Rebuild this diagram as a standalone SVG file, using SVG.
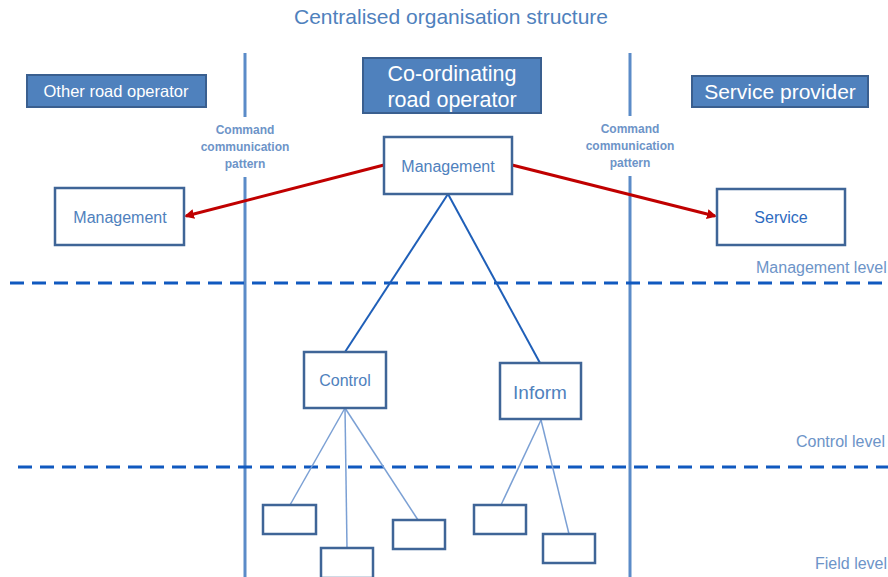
<svg xmlns="http://www.w3.org/2000/svg" width="888" height="577" viewBox="0 0 888 577">
<defs>
<marker id="ar" markerWidth="10" markerHeight="10" refX="8" refY="5" orient="auto" markerUnits="userSpaceOnUse"><path d="M0,0 L10,5 L0,10 z" fill="#c00000"/></marker>
<style>
text{font-family:"Liberation Sans",Arial,sans-serif;}
.lbl{fill:#4f81bd;text-anchor:middle;}
.hdr{fill:#4f81bd;stroke:#3a5f8f;stroke-width:2;}
.htx{fill:#ffffff;text-anchor:middle;}
.box{fill:#ffffff;stroke:#3f6597;stroke-width:2.5;}
.vl{stroke:#5b8bc8;stroke-width:3;}
.dash{stroke:#1059bf;stroke-width:3;stroke-dasharray:14 8;}
.cmd{fill:#6d94c8;font-weight:bold;font-size:12px;text-anchor:middle;}
.lvl{fill:#6d94c8;font-size:16px;}
.red{stroke:#c00000;stroke-width:3;fill:none;marker-end:url(#ar);}
.tree{stroke:#1f5fb8;stroke-width:2;}
.twig{stroke:#7ba0d4;stroke-width:1.5;}
</style>
</defs>
<rect width="888" height="577" fill="#ffffff"/>
<text x="451" y="24" class="lbl" font-size="21">Centralised organisation structure</text>
<g id="dividers">
<line x1="245" y1="53" x2="245" y2="577" class="vl"/>
<line x1="630" y1="53" x2="630" y2="577" class="vl"/>
<line x1="10" y1="283" x2="888" y2="283" class="dash"/>
<line x1="18" y1="467" x2="888" y2="467" class="dash"/>
</g>
<g id="command-labels">
<rect x="178" y="117" width="137" height="60" fill="#ffffff"/>
<text x="245" y="134" class="cmd">Command</text>
<text x="245" y="151" class="cmd">communication</text>
<text x="245" y="168" class="cmd">pattern</text>
<rect x="562" y="116" width="136" height="60" fill="#ffffff"/>
<text x="630" y="133" class="cmd">Command</text>
<text x="630" y="150" class="cmd">communication</text>
<text x="630" y="167" class="cmd">pattern</text>
</g>
<g id="levels">
<text x="756" y="273" class="lvl">Management level</text>
<text x="796" y="447" class="lvl">Control level</text>
<text x="815" y="569" class="lvl">Field level</text>
</g>
<g id="connectors">
<line x1="448" y1="194" x2="345" y2="352" class="tree"/>
<line x1="448" y1="194" x2="540" y2="363" class="tree"/>
<line x1="345" y1="408" x2="290" y2="505" class="twig"/>
<line x1="345" y1="408" x2="347" y2="548" class="twig"/>
<line x1="345" y1="408" x2="418" y2="520" class="twig"/>
<line x1="541" y1="420" x2="501" y2="505" class="twig"/>
<line x1="541" y1="420" x2="569" y2="534" class="twig"/>
<path d="M384,165 L186,216" class="red"/>
<path d="M512,165 L715,216" class="red"/>
</g>
<g id="hdr-other"><rect x="27" y="75" width="179" height="32" class="hdr"/><text x="116" y="97" class="htx" font-size="16.5">Other road operator</text></g>
<g id="hdr-coord"><rect x="363" y="58" width="178" height="55" class="hdr"/><text x="452" y="81" class="htx" font-size="21.5">Co-ordinating</text><text x="452" y="107" class="htx" font-size="21.5">road operator</text></g>
<g id="hdr-service"><rect x="692" y="76" width="176" height="31" class="hdr"/><text x="780" y="99" class="htx" font-size="21">Service provider</text></g>
<g id="n-mgmt-center"><rect x="384" y="137" width="128" height="57" class="box"/><text x="448" y="172" class="lbl" font-size="16">Management</text></g>
<g id="n-mgmt-left"><rect x="55" y="188" width="129" height="57" class="box"/><text x="120" y="223" class="lbl" font-size="16">Management</text></g>
<g id="n-service"><rect x="717" y="189" width="128" height="56" class="box"/><text x="781" y="223" fill="#2e6bbf" text-anchor="middle" font-size="16">Service</text></g>
<g id="n-control"><rect x="304" y="352" width="82" height="56" class="box"/><text x="345" y="386" class="lbl" font-size="16">Control</text></g>
<g id="n-inform"><rect x="500" y="363" width="81" height="56" class="box"/><text x="540" y="399" class="lbl" font-size="19">Inform</text></g>
<g id="f1"><rect x="263" y="505" width="53" height="29" class="box"/></g>
<g id="f2"><rect x="321" y="548" width="52" height="30" class="box"/></g>
<g id="f3"><rect x="393" y="520" width="52" height="29" class="box"/></g>
<g id="f4"><rect x="474" y="505" width="52" height="29" class="box"/></g>
<g id="f5"><rect x="543" y="534" width="52" height="29" class="box"/></g>
</svg>
